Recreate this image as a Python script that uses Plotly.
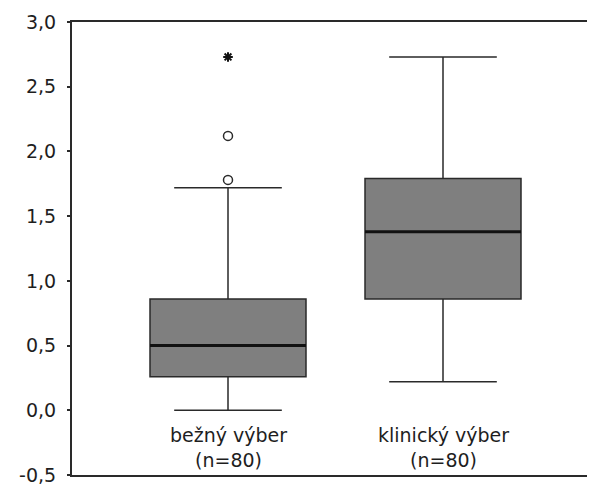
import plotly.graph_objects as go

# ---- data ----
categories = ["bežný výber<br>(n=80)", "klinický výber<br>(n=80)"]
positions = [0, 1]
q1 = [0.26, 0.86]
median = [0.50, 1.38]
q3 = [0.86, 1.79]
lower_fence = [0.00, 0.22]
upper_fence = [1.72, 2.73]
outlier_x = [0, 0]
outlier_y = [1.78, 2.12]
extreme_x = [0]
extreme_y = [2.73]
y_ticks = [-0.5, 0.0, 0.5, 1.0, 1.5, 2.0, 2.5, 3.0]
y_tick_text = [f"{v:.1f}".replace(".", ",") for v in y_ticks]

BOX_W = 0.7256
FONT = "DejaVu Sans"
TXT = "#1e1e1e"
LINE = "#2a2a2a"

fig = go.Figure()

fig.add_trace(go.Box(
    x=positions, q1=q1, median=median, q3=q3,
    lowerfence=lower_fence, upperfence=upper_fence,
    width=BOX_W, whiskerwidth=0.69, boxpoints=False,
    fillcolor="#7f7f7f", line=dict(color=LINE, width=1.5),
    showlegend=False, hoverinfo="skip",
))

# thick median lines
for p, m in zip(positions, median):
    fig.add_trace(go.Scatter(
        x=[p - BOX_W / 2, p + BOX_W / 2], y=[m, m], mode="lines",
        line=dict(color="#111111", width=3), showlegend=False, hoverinfo="skip",
    ))

fig.add_trace(go.Scatter(
    x=outlier_x, y=outlier_y, mode="markers",
    marker=dict(symbol="circle-open", size=9, color=LINE, line=dict(width=1.5)),
    showlegend=False, hoverinfo="skip",
))
fig.add_trace(go.Scatter(
    x=extreme_x, y=extreme_y, mode="markers",
    marker=dict(symbol="asterisk-open", size=8, color="#111111", line=dict(width=2, color="#111111")),
    showlegend=False, hoverinfo="skip",
))

for p, c in zip(positions, categories):
    fig.add_annotation(x=p, y=-0.29, text=c, showarrow=False,
                       xanchor="center", yanchor="middle",
                       font=dict(family=FONT, size=19, color=TXT))

# page body has an 8px default margin, so the figure is sized/offset to compensate
fig.update_layout(
    width=587, height=477,
    margin=dict(l=64, r=0, t=14, b=10),
    paper_bgcolor="white", plot_bgcolor="white",
    font=dict(family=FONT, size=19, color=TXT),
    xaxis=dict(range=[-0.7256, 1.707], showticklabels=False, ticks="",
               showgrid=False, zeroline=False, showline=True, mirror=True,
               linecolor=LINE, linewidth=2),
    yaxis=dict(range=[-0.5, 3.0], tickvals=y_ticks, ticktext=y_tick_text,
               ticks="outside", ticklen=3, tickwidth=2, tickcolor=LINE,
               ticklabelstandoff=7, ticklabeloverflow="allow",
               showgrid=False, zeroline=False, showline=True,
               linecolor=LINE, linewidth=2),
)

fig.write_html("out.html")
